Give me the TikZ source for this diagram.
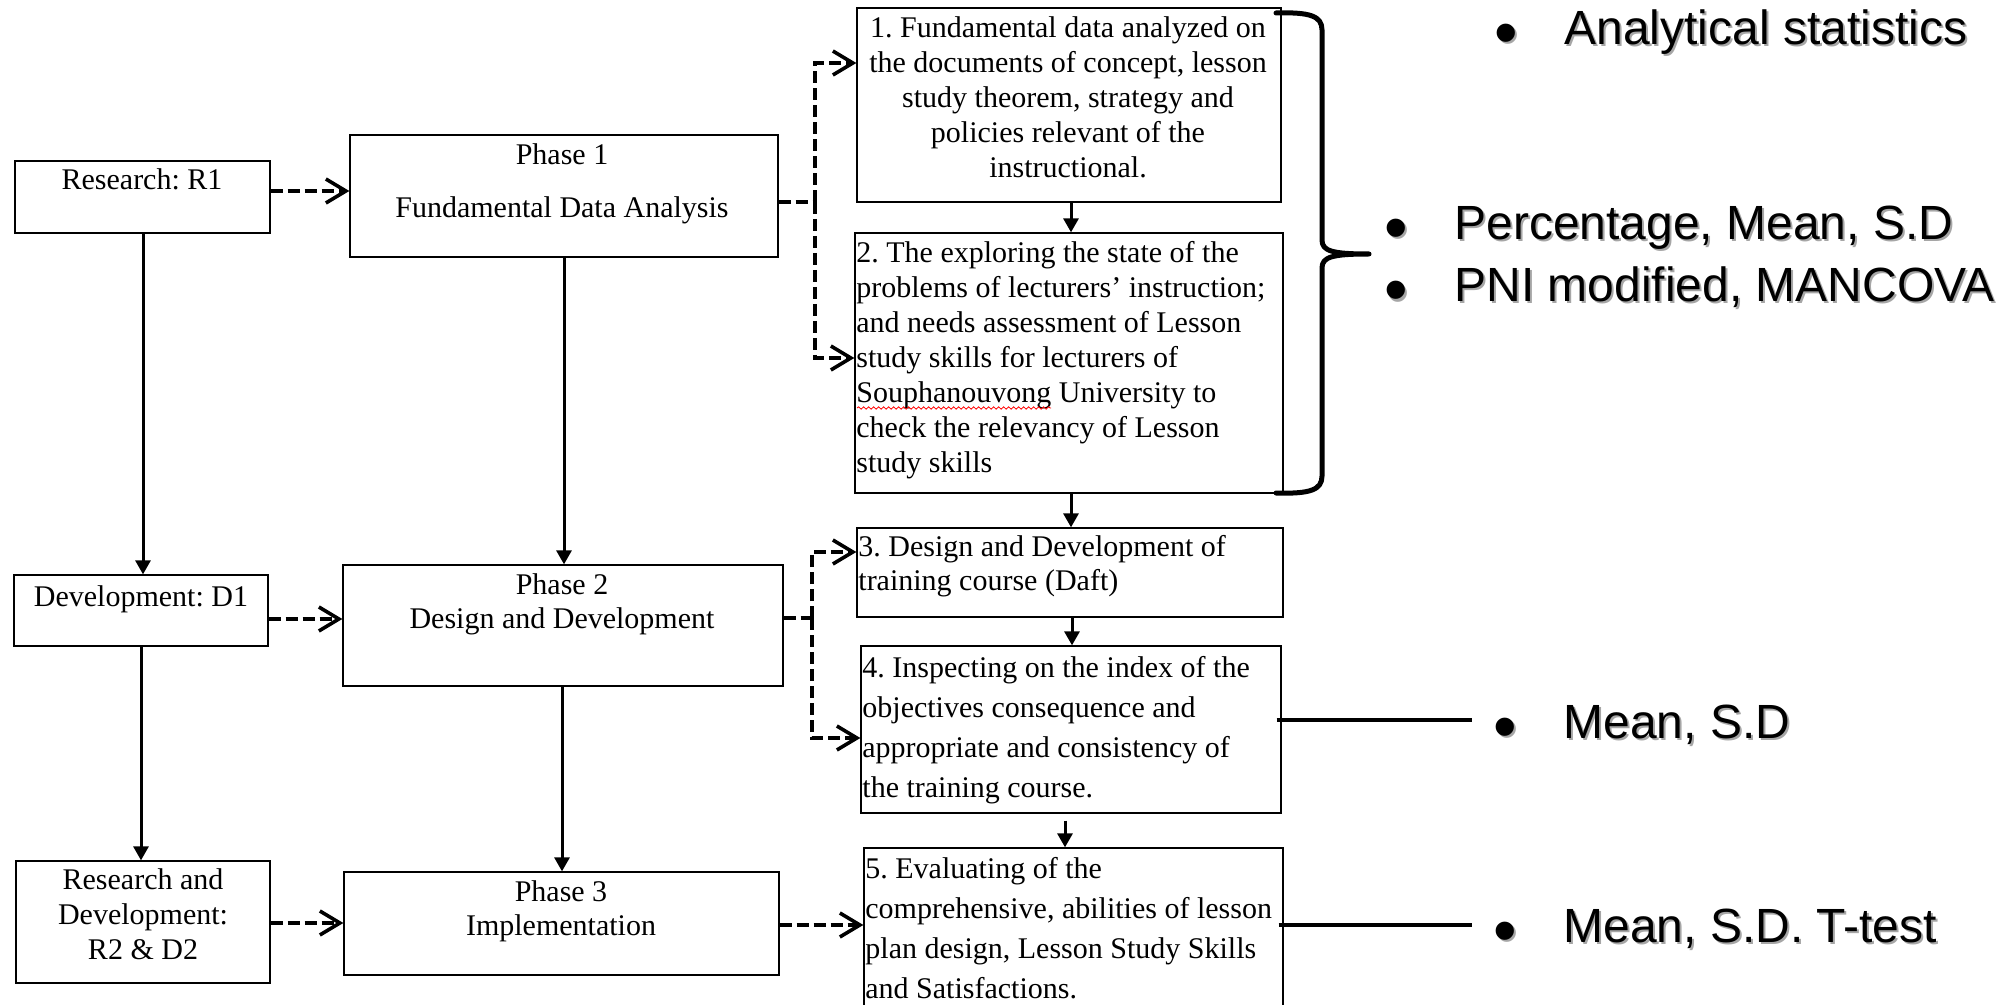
\documentclass[tikz,border=0pt]{standalone}
\usepackage{fontspec}
\setmainfont{Liberation Serif}
\newfontfamily\arialf{Liberation Sans}
\usetikzlibrary{arrows.meta,fit,decorations.pathmorphing,calc}
\frenchspacing
\newcommand\fst{\rule{0pt}{11pt}}
\newcommand\shd[1]{\rlap{\kern1pt\raisebox{-1pt}{\color{black!35}#1}}#1}
\newcommand\bigbul{\raisebox{-5.5pt}{\scalebox{1.4}{\textbullet}}}
\newcommand\itm[1]{\shd{\makebox[35pt][l]{\bigbul}#1}}
\begin{document}
\begin{tikzpicture}[x=0.5pt,y=-0.5pt,
  box/.style={draw=black, line width=0.65pt, inner sep=0pt},
  txt/.style={inner sep=0pt, font=\fontsize{15}{17.5}\selectfont},
  solidarrow/.style={line width=1.5pt, -{Triangle[length=7pt,width=7.5pt]}},
  dashline/.style={line width=1.8pt, dash pattern=on 6pt off 2.5pt},
  dasharrow/.style={dashline, -{Straight Barb[length=10pt,width=12pt,line width=1.8pt]}},
  item/.style={inner sep=0pt, anchor=base west, font=\arialf\fontsize{24}{28}\selectfont},
  barline/.style={line width=2pt},
  bracestyle/.style={line width=2.5pt, line cap=round, line join=round},
]
\useasboundingbox (0,0) rectangle (2016,1005);
\clip (0,0) rectangle (2016,1005);
\fill[white] (0,0) rectangle (2016,1005);

% left column boxes
\node[box, fit={(15,161)(270,233)}] (r1) {};
\node[box, fit={(14,575)(268,646)}] (d1) {};
\node[box, fit={(16,861)(270,983)}] (rd) {};
% phases
\node[box, fit={(350,135)(778,257)}] (p1) {};
\node[box, fit={(343,565)(783,686)}] (p2) {};
\node[box, fit={(344,872)(779,975)}] (p3) {};
% step boxes
\node[box, fit={(857,8)(1281,202)}] (b1) {};
\node[box, fit={(855,233)(1283,493)}] (b2) {};
\node[box, fit={(857,528)(1283,617)}] (b3) {};
\node[box, fit={(861,646)(1281,813)}] (b4) {};
\node[box, fit={(864,848)(1283,1020)}] (b5) {};

% texts
\node[txt, anchor=base] (r1t) at (142,190) {Research: R1};
\node[txt, anchor=base] (d1t) at (141,606) {Development: D1};
\node[txt, anchor=north, align=center] (rdt) at (143,867) {\fst Research and\\Development:\\R2 \& D2};
\node[txt, anchor=north, align=center, font=\fontsize{15}{26.5}\selectfont] (p1t) at (562,142) {\fst Phase 1\\Fundamental Data Analysis};
\node[txt, anchor=north, align=center, font=\fontsize{15}{17}\selectfont] (p2t) at (562,572) {\fst Phase 2\\Design and Development};
\node[txt, anchor=north, align=center, font=\fontsize{15}{17}\selectfont] (p3t) at (561,879) {\fst Phase 3\\Implementation};

\node[txt, anchor=north, align=center] (b1t) at (1068,15) {\fst 1. Fundamental data analyzed on\\the documents of concept, lesson\\study theorem, strategy and\\policies relevant of the\\instructional.};
\node[txt, anchor=north west, align=left] (b2t) at (856,240) {\fst 2. The exploring the state of the\\problems of lecturers’ instruction;\\and needs assessment of Lesson\\study skills for lecturers of\\Souphanouvong University to\\check the relevancy of Lesson\\study skills};
\node[txt, anchor=north west, align=left, font=\fontsize{15}{17}\selectfont] (b3t) at (858,534) {\fst 3. Design and Development of\\training course (Daft)};
\node[txt, anchor=north west, align=left, font=\fontsize{15}{20}\selectfont] (b4t) at (862,655) {\fst 4. Inspecting on the index of the\\objectives consequence and\\appropriate and consistency of\\the training course.};
\node[txt, anchor=north west, align=left, font=\fontsize{15}{20}\selectfont] (b5t) at (865,856) {\fst 5. Evaluating of the\\comprehensive, abilities of lesson\\plan design, Lesson Study Skills\\and Satisfactions.};

% spell-check underline
\draw[red, line width=0.4pt, decorate, decoration={snake, amplitude=0.6pt, segment length=2.5pt}] (857,408) -- (1051,408);

% vertical solid arrows
\draw[solidarrow] (r1.south -| 143,0) -- (d1.north -| 143,0);
\draw[solidarrow] (d1.south -| 141,0) -- (rd.north -| 141,0);
\draw[solidarrow] (p1.south -| 564,0) -- (p2.north -| 564,0);
\draw[solidarrow] (p2.south -| 562,0) -- (p3.north -| 562,0);
\draw[solidarrow] (b1.south -| 1071,0) -- (b2.north -| 1071,0);
\draw[solidarrow] (b2.south -| 1071,0) -- (b3.north -| 1071,0);
\draw[solidarrow] (b3.south -| 1072,0) -- (b4.north -| 1072,0);
\draw[solidarrow, shorten <=3.5pt] (b4.south -| 1065,0) -- (b5.north -| 1065,0);

% dashed arrows
\draw[dasharrow] (r1.east |- 0,191) -- (p1.west |- 0,191);
\draw[dasharrow] (d1.east |- 0,619) -- (p2.west |- 0,619);
\draw[dasharrow] (rd.east |- 0,923) -- (p3.west |- 0,923);
\draw[dasharrow] (p3.east |- 0,925) -- (b5.west |- 0,925);

\coordinate (j1) at (815,202);
\draw[dashline] (p1.east |- j1) -- (j1);
\draw[dasharrow] (j1) |- (b1.west |- 0,63);
\draw[dasharrow] (j1) |- (b2.west |- 0,358);

\coordinate (j2) at (812,618);
\draw[dashline] (p2.east |- j2) -- (j2);
\draw[dasharrow] (j2) |- (b3.west |- 0,552);
\draw[dasharrow] (j2) |- (b4.west |- 0,738);

% brace
\draw[bracestyle] (1276,13) .. controls (1310,12) and (1322,16) .. (1322,30)
  -- (1322,240) .. controls (1322,251) and (1332,254) .. (1369,254)
  .. controls (1332,254) and (1322,257) .. (1322,268)
  -- (1322,476) .. controls (1322,490) and (1310,494) .. (1276,493);

% statistics items
\node[item] (a1) at (1494,45) {\itm{Analytical statistics}};
\node[item] (a2) at (1384,240) {\itm{Percentage, Mean, S.D}};
\node[item] (a3) at (1384,302) {\itm{PNI modified, MANCOVA}};
\node[item] (a4) at (1493,738) {\itm{Mean, S.D}};
\node[item] (a5) at (1493,942) {\itm{Mean, S.D. T-test}};

\coordinate (e1) at (1472,720);
\coordinate (e2) at (1472,925);
\draw[barline] ($(b4.east |- e1)+(-5,0)$) -- (e1);
\draw[barline] ($(b5.east |- e2)+(-5,0)$) -- (e2);
\end{tikzpicture}
\end{document}
